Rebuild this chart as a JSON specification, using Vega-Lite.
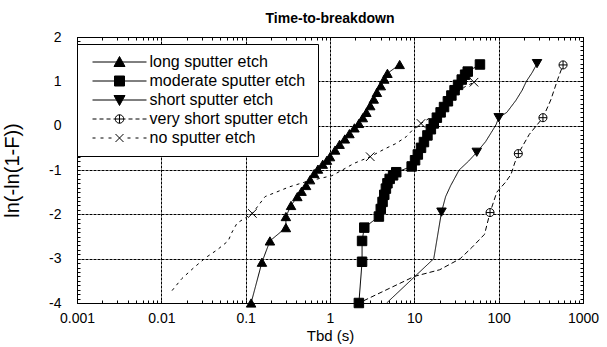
{
  "$schema": "https://vega.github.io/schema/vega-lite/v6.json",
  "width": 506,
  "height": 266,
  "autosize": {"type": "none"},
  "padding": {"left": 77, "top": 37, "right": 24, "bottom": 44},
  "background": "white",
  "title": {"text": "Time-to-breakdown", "font": "Liberation Sans", "fontSize": 14, "fontWeight": "bold", "color": "black", "anchor": "middle", "frame": "group", "baseline": "alphabetic", "offset": -7},
  "config": {
    "view": {"stroke": "black", "strokeWidth": 1},
    "axis": {"labelFont": "Liberation Sans", "titleFont": "Liberation Sans", "labelColor": "black", "titleColor": "black", "domainColor": "black", "tickColor": "black", "titleFontWeight": "normal", "labelOverlap": false, "labelFlush": false, "labelBound": false}
  },
  "datasets": {
    "lines": [
      {"s": "long sputter etch", "x": 0.116, "y": -4.0},
      {"s": "long sputter etch", "x": 0.156, "y": -3.08},
      {"s": "long sputter etch", "x": 0.194, "y": -2.6},
      {"s": "long sputter etch", "x": 0.30, "y": -2.3},
      {"s": "long sputter etch", "x": 0.30, "y": -2.05},
      {"s": "long sputter etch", "x": 0.345, "y": -1.8},
      {"s": "long sputter etch", "x": 0.41, "y": -1.6},
      {"s": "long sputter etch", "x": 0.46, "y": -1.48},
      {"s": "long sputter etch", "x": 0.52, "y": -1.35},
      {"s": "long sputter etch", "x": 0.58, "y": -1.22},
      {"s": "long sputter etch", "x": 0.65, "y": -1.08},
      {"s": "long sputter etch", "x": 0.72, "y": -0.98},
      {"s": "long sputter etch", "x": 0.82, "y": -0.87},
      {"s": "long sputter etch", "x": 0.92, "y": -0.78},
      {"s": "long sputter etch", "x": 1.0, "y": -0.7},
      {"s": "long sputter etch", "x": 1.15, "y": -0.55},
      {"s": "long sputter etch", "x": 1.3, "y": -0.42},
      {"s": "long sputter etch", "x": 1.5, "y": -0.3},
      {"s": "long sputter etch", "x": 1.7, "y": -0.18},
      {"s": "long sputter etch", "x": 1.95, "y": -0.05},
      {"s": "long sputter etch", "x": 2.2, "y": 0.05},
      {"s": "long sputter etch", "x": 2.45, "y": 0.18},
      {"s": "long sputter etch", "x": 2.7, "y": 0.3},
      {"s": "long sputter etch", "x": 3.0, "y": 0.45},
      {"s": "long sputter etch", "x": 3.3, "y": 0.6},
      {"s": "long sputter etch", "x": 3.6, "y": 0.75},
      {"s": "long sputter etch", "x": 4.0, "y": 0.9},
      {"s": "long sputter etch", "x": 4.4, "y": 1.05},
      {"s": "long sputter etch", "x": 4.8, "y": 1.18},
      {"s": "long sputter etch", "x": 6.7, "y": 1.38},
      {"s": "moderate sputter etch", "x": 2.2, "y": -4.0},
      {"s": "moderate sputter etch", "x": 2.4, "y": -3.07},
      {"s": "moderate sputter etch", "x": 2.4, "y": -2.6},
      {"s": "moderate sputter etch", "x": 2.55, "y": -2.3},
      {"s": "moderate sputter etch", "x": 3.8, "y": -2.05},
      {"s": "moderate sputter etch", "x": 4.0, "y": -1.88},
      {"s": "moderate sputter etch", "x": 4.2, "y": -1.72},
      {"s": "moderate sputter etch", "x": 4.4, "y": -1.56},
      {"s": "moderate sputter etch", "x": 4.6, "y": -1.42},
      {"s": "moderate sputter etch", "x": 4.8, "y": -1.3},
      {"s": "moderate sputter etch", "x": 5.1, "y": -1.2},
      {"s": "moderate sputter etch", "x": 5.6, "y": -1.12},
      {"s": "moderate sputter etch", "x": 6.1, "y": -1.05},
      {"s": "moderate sputter etch", "x": 9.3, "y": -0.92},
      {"s": "moderate sputter etch", "x": 10.2, "y": -0.78},
      {"s": "moderate sputter etch", "x": 11.0, "y": -0.65},
      {"s": "moderate sputter etch", "x": 12.0, "y": -0.5},
      {"s": "moderate sputter etch", "x": 13.0, "y": -0.37},
      {"s": "moderate sputter etch", "x": 14.3, "y": -0.22},
      {"s": "moderate sputter etch", "x": 15.7, "y": -0.08},
      {"s": "moderate sputter etch", "x": 17.0, "y": 0.05},
      {"s": "moderate sputter etch", "x": 18.5, "y": 0.18},
      {"s": "moderate sputter etch", "x": 20.5, "y": 0.3},
      {"s": "moderate sputter etch", "x": 22.5, "y": 0.42},
      {"s": "moderate sputter etch", "x": 25, "y": 0.55},
      {"s": "moderate sputter etch", "x": 27.5, "y": 0.68},
      {"s": "moderate sputter etch", "x": 30, "y": 0.8},
      {"s": "moderate sputter etch", "x": 33, "y": 0.92},
      {"s": "moderate sputter etch", "x": 36.5, "y": 1.04},
      {"s": "moderate sputter etch", "x": 40, "y": 1.15},
      {"s": "moderate sputter etch", "x": 43, "y": 1.22},
      {"s": "moderate sputter etch", "x": 60, "y": 1.38},
      {"s": "short sputter etch", "x": 4.7, "y": -4.0},
      {"s": "short sputter etch", "x": 17, "y": -3.0},
      {"s": "short sputter etch", "x": 21, "y": -1.95},
      {"s": "short sputter etch", "x": 23.5, "y": -1.6},
      {"s": "short sputter etch", "x": 27, "y": -1.35},
      {"s": "short sputter etch", "x": 34, "y": -1.0},
      {"s": "short sputter etch", "x": 44, "y": -0.8},
      {"s": "short sputter etch", "x": 55, "y": -0.6},
      {"s": "short sputter etch", "x": 70, "y": -0.36},
      {"s": "short sputter etch", "x": 82, "y": -0.15},
      {"s": "short sputter etch", "x": 93, "y": 0.02},
      {"s": "short sputter etch", "x": 100, "y": 0.18},
      {"s": "short sputter etch", "x": 125, "y": 0.3},
      {"s": "short sputter etch", "x": 160, "y": 0.57},
      {"s": "short sputter etch", "x": 190, "y": 0.8},
      {"s": "short sputter etch", "x": 213, "y": 1.0},
      {"s": "short sputter etch", "x": 250, "y": 1.2},
      {"s": "short sputter etch", "x": 285, "y": 1.4},
      {"s": "very short sputter etch", "x": 2.5, "y": -3.95},
      {"s": "very short sputter etch", "x": 10, "y": -3.4},
      {"s": "very short sputter etch", "x": 20, "y": -3.25},
      {"s": "very short sputter etch", "x": 35, "y": -3.0},
      {"s": "very short sputter etch", "x": 48, "y": -2.75},
      {"s": "very short sputter etch", "x": 68, "y": -2.45},
      {"s": "very short sputter etch", "x": 79, "y": -1.96},
      {"s": "very short sputter etch", "x": 95, "y": -1.5},
      {"s": "very short sputter etch", "x": 120, "y": -1.28},
      {"s": "very short sputter etch", "x": 140, "y": -1.1},
      {"s": "very short sputter etch", "x": 155, "y": -0.84},
      {"s": "very short sputter etch", "x": 171, "y": -0.63},
      {"s": "very short sputter etch", "x": 230, "y": -0.2},
      {"s": "very short sputter etch", "x": 335, "y": 0.18},
      {"s": "very short sputter etch", "x": 415, "y": 0.58},
      {"s": "very short sputter etch", "x": 500, "y": 1.04},
      {"s": "very short sputter etch", "x": 580, "y": 1.37},
      {"s": "no sputter etch", "x": 0.0134, "y": -3.72},
      {"s": "no sputter etch", "x": 0.0175, "y": -3.45},
      {"s": "no sputter etch", "x": 0.0244, "y": -3.2},
      {"s": "no sputter etch", "x": 0.034, "y": -2.97},
      {"s": "no sputter etch", "x": 0.046, "y": -2.8},
      {"s": "no sputter etch", "x": 0.062, "y": -2.6},
      {"s": "no sputter etch", "x": 0.069, "y": -2.4},
      {"s": "no sputter etch", "x": 0.079, "y": -2.2},
      {"s": "no sputter etch", "x": 0.12, "y": -1.98},
      {"s": "no sputter etch", "x": 0.17, "y": -1.6},
      {"s": "no sputter etch", "x": 0.23, "y": -1.5},
      {"s": "no sputter etch", "x": 0.33, "y": -1.38},
      {"s": "no sputter etch", "x": 0.55, "y": -1.25},
      {"s": "no sputter etch", "x": 1.05, "y": -1.13},
      {"s": "no sputter etch", "x": 1.4, "y": -1.0},
      {"s": "no sputter etch", "x": 1.93, "y": -0.85},
      {"s": "no sputter etch", "x": 3.0, "y": -0.7},
      {"s": "no sputter etch", "x": 4.5, "y": -0.52},
      {"s": "no sputter etch", "x": 6.1, "y": -0.4},
      {"s": "no sputter etch", "x": 8, "y": -0.25},
      {"s": "no sputter etch", "x": 9.5, "y": -0.1},
      {"s": "no sputter etch", "x": 12, "y": 0.05},
      {"s": "no sputter etch", "x": 16, "y": 0.2},
      {"s": "no sputter etch", "x": 20, "y": 0.35},
      {"s": "no sputter etch", "x": 25, "y": 0.55},
      {"s": "no sputter etch", "x": 32, "y": 0.75},
      {"s": "no sputter etch", "x": 40, "y": 0.88},
      {"s": "no sputter etch", "x": 51, "y": 0.98}
    ],
    "markers": [
      {"s": "long sputter etch", "x": 0.116, "y": -4.0},
      {"s": "long sputter etch", "x": 0.156, "y": -3.08},
      {"s": "long sputter etch", "x": 0.194, "y": -2.6},
      {"s": "long sputter etch", "x": 0.30, "y": -2.3},
      {"s": "long sputter etch", "x": 0.30, "y": -2.05},
      {"s": "long sputter etch", "x": 0.345, "y": -1.8},
      {"s": "long sputter etch", "x": 0.41, "y": -1.6},
      {"s": "long sputter etch", "x": 0.46, "y": -1.48},
      {"s": "long sputter etch", "x": 0.52, "y": -1.35},
      {"s": "long sputter etch", "x": 0.58, "y": -1.22},
      {"s": "long sputter etch", "x": 0.65, "y": -1.08},
      {"s": "long sputter etch", "x": 0.72, "y": -0.98},
      {"s": "long sputter etch", "x": 0.82, "y": -0.87},
      {"s": "long sputter etch", "x": 0.92, "y": -0.78},
      {"s": "long sputter etch", "x": 1.0, "y": -0.7},
      {"s": "long sputter etch", "x": 1.15, "y": -0.55},
      {"s": "long sputter etch", "x": 1.3, "y": -0.42},
      {"s": "long sputter etch", "x": 1.5, "y": -0.3},
      {"s": "long sputter etch", "x": 1.7, "y": -0.18},
      {"s": "long sputter etch", "x": 1.95, "y": -0.05},
      {"s": "long sputter etch", "x": 2.2, "y": 0.05},
      {"s": "long sputter etch", "x": 2.45, "y": 0.18},
      {"s": "long sputter etch", "x": 2.7, "y": 0.3},
      {"s": "long sputter etch", "x": 3.0, "y": 0.45},
      {"s": "long sputter etch", "x": 3.3, "y": 0.6},
      {"s": "long sputter etch", "x": 3.6, "y": 0.75},
      {"s": "long sputter etch", "x": 4.0, "y": 0.9},
      {"s": "long sputter etch", "x": 4.4, "y": 1.05},
      {"s": "long sputter etch", "x": 4.8, "y": 1.18},
      {"s": "long sputter etch", "x": 6.7, "y": 1.38},
      {"s": "moderate sputter etch", "x": 2.2, "y": -4.0},
      {"s": "moderate sputter etch", "x": 2.4, "y": -3.07},
      {"s": "moderate sputter etch", "x": 2.4, "y": -2.6},
      {"s": "moderate sputter etch", "x": 2.55, "y": -2.3},
      {"s": "moderate sputter etch", "x": 3.8, "y": -2.05},
      {"s": "moderate sputter etch", "x": 4.0, "y": -1.88},
      {"s": "moderate sputter etch", "x": 4.2, "y": -1.72},
      {"s": "moderate sputter etch", "x": 4.4, "y": -1.56},
      {"s": "moderate sputter etch", "x": 4.6, "y": -1.42},
      {"s": "moderate sputter etch", "x": 4.8, "y": -1.3},
      {"s": "moderate sputter etch", "x": 5.1, "y": -1.2},
      {"s": "moderate sputter etch", "x": 5.6, "y": -1.12},
      {"s": "moderate sputter etch", "x": 6.1, "y": -1.05},
      {"s": "moderate sputter etch", "x": 9.3, "y": -0.92},
      {"s": "moderate sputter etch", "x": 10.2, "y": -0.78},
      {"s": "moderate sputter etch", "x": 11.0, "y": -0.65},
      {"s": "moderate sputter etch", "x": 12.0, "y": -0.5},
      {"s": "moderate sputter etch", "x": 13.0, "y": -0.37},
      {"s": "moderate sputter etch", "x": 14.3, "y": -0.22},
      {"s": "moderate sputter etch", "x": 15.7, "y": -0.08},
      {"s": "moderate sputter etch", "x": 17.0, "y": 0.05},
      {"s": "moderate sputter etch", "x": 18.5, "y": 0.18},
      {"s": "moderate sputter etch", "x": 20.5, "y": 0.3},
      {"s": "moderate sputter etch", "x": 22.5, "y": 0.42},
      {"s": "moderate sputter etch", "x": 25, "y": 0.55},
      {"s": "moderate sputter etch", "x": 27.5, "y": 0.68},
      {"s": "moderate sputter etch", "x": 30, "y": 0.8},
      {"s": "moderate sputter etch", "x": 33, "y": 0.92},
      {"s": "moderate sputter etch", "x": 36.5, "y": 1.04},
      {"s": "moderate sputter etch", "x": 40, "y": 1.15},
      {"s": "moderate sputter etch", "x": 43, "y": 1.22},
      {"s": "moderate sputter etch", "x": 60, "y": 1.38},
      {"s": "short sputter etch", "x": 21, "y": -1.95},
      {"s": "short sputter etch", "x": 55, "y": -0.6},
      {"s": "short sputter etch", "x": 100, "y": 0.18},
      {"s": "short sputter etch", "x": 285, "y": 1.4},
      {"s": "very short sputter etch", "x": 79, "y": -1.96},
      {"s": "very short sputter etch", "x": 171, "y": -0.63},
      {"s": "very short sputter etch", "x": 335, "y": 0.18},
      {"s": "very short sputter etch", "x": 580, "y": 1.37},
      {"s": "no sputter etch", "x": 0.12, "y": -1.98},
      {"s": "no sputter etch", "x": 3.0, "y": -0.7},
      {"s": "no sputter etch", "x": 12, "y": 0.05},
      {"s": "no sputter etch", "x": 51, "y": 0.98}
    ]
  },
  "layer": [
    {
      "data": {"name": "lines"},
      "mark": {"type": "line", "color": "black", "strokeWidth": 1},
      "encoding": {
        "x": {
          "field": "x", "type": "quantitative",
          "scale": {"type": "log", "domain": [0.001, 1000]},
          "axis": {
            "orient": "bottom",
            "offset": -3,
            "domain": false,
            "values": [0.001,0.002,0.003,0.004,0.005,0.006,0.007,0.008,0.009,0.01,0.02,0.03,0.04,0.05,0.06,0.07,0.08,0.09,0.1,0.2,0.3,0.4,0.5,0.6,0.7,0.8,0.9,1,2,3,4,5,6,7,8,9,10,20,30,40,50,60,70,80,90,100,200,300,400,500,600,700,800,900,1000],
            "labelExpr": "indexof([0.001,0.01,0.1,1,10,100,1000], datum.value) >= 0 ? '' + datum.value : ''",
            "grid": true,
            "gridColor": "black",
            "gridDash": [3, 1],
            "gridWidth": 1,
            "gridOpacity": {"condition": {"test": "indexof([0.001,0.01,0.1,1,10,100,1000], datum.value) >= 0", "value": 1}, "value": 0},
            "tickSize": 3,
            "labelFontSize": 14,
            "labelPadding": 8,
            "title": "Tbd (s)",
            "titleFontSize": 15,
            "titlePadding": 3
          }
        },
        "y": {
          "field": "y", "type": "quantitative",
          "scale": {"domain": [-4, 2]},
          "axis": {
            "orient": "left",
            "offset": -3,
            "domain": false,
            "values": [-4,-3.9,-3.8,-3.7,-3.6,-3.5,-3.4,-3.3,-3.2,-3.1,-3,-2.9,-2.8,-2.7,-2.6,-2.5,-2.4,-2.3,-2.2,-2.1,-2,-1.9,-1.8,-1.7,-1.6,-1.5,-1.4,-1.3,-1.2,-1.1,-1,-0.9,-0.8,-0.7,-0.6,-0.5,-0.4,-0.3,-0.2,-0.1,0,0.1,0.2,0.3,0.4,0.5,0.6,0.7,0.8,0.9,1,1.1,1.2,1.3,1.4,1.5,1.6,1.7,1.8,1.9,2],
            "labelExpr": "abs(datum.value - round(datum.value)) < 0.001 ? '' + round(datum.value) : ''",
            "grid": true,
            "gridColor": "black",
            "gridDash": [3, 1],
            "gridWidth": 1,
            "gridOpacity": {"condition": {"test": "abs(datum.value - round(datum.value)) < 0.001", "value": 1}, "value": 0},
            "tickSize": 3,
            "labelFontSize": 14,
            "labelPadding": 16,
            "title": "ln(-ln(1-F))",
            "titleFontSize": 20,
            "titlePadding": 26
          }
        },
        "detail": {"field": "s"},
        "strokeDash": {
          "condition": [
            {"test": "datum.s == 'very short sputter etch'", "value": [5, 3]},
            {"test": "datum.s == 'no sputter etch'", "value": [3, 4]}
          ],
          "value": [1, 0]
        },
        "order": {"field": "y", "type": "quantitative"}
      }
    },
    {
      "data": {"name": "markers"},
      "mark": {"type": "point", "filled": true, "stroke": "black", "strokeWidth": 1, "opacity": 1, "size": 90},
      "encoding": {
        "x": {
          "field": "x", "type": "quantitative",
          "scale": {"type": "log", "domain": [0.001, 1000]},
          "axis": {
            "orient": "top",
            "offset": -3,
            "domain": false,
            "values": [0.001,0.002,0.003,0.004,0.005,0.006,0.007,0.008,0.009,0.01,0.02,0.03,0.04,0.05,0.06,0.07,0.08,0.09,0.1,0.2,0.3,0.4,0.5,0.6,0.7,0.8,0.9,1,2,3,4,5,6,7,8,9,10,20,30,40,50,60,70,80,90,100,200,300,400,500,600,700,800,900,1000],
            "labels": false, "grid": false, "tickSize": 3, "title": null
          }
        },
        "y": {
          "field": "y", "type": "quantitative",
          "scale": {"domain": [-4, 2]},
          "axis": {
            "orient": "right",
            "offset": -3,
            "domain": false,
            "values": [-4,-3.9,-3.8,-3.7,-3.6,-3.5,-3.4,-3.3,-3.2,-3.1,-3,-2.9,-2.8,-2.7,-2.6,-2.5,-2.4,-2.3,-2.2,-2.1,-2,-1.9,-1.8,-1.7,-1.6,-1.5,-1.4,-1.3,-1.2,-1.1,-1,-0.9,-0.8,-0.7,-0.6,-0.5,-0.4,-0.3,-0.2,-0.1,0,0.1,0.2,0.3,0.4,0.5,0.6,0.7,0.8,0.9,1,1.1,1.2,1.3,1.4,1.5,1.6,1.7,1.8,1.9,2],
            "labels": false, "grid": false, "tickSize": 3, "title": null
          }
        },
        "shape": {
          "condition": [
            {"test": "datum.s == 'moderate sputter etch'", "value": "square"},
            {"test": "datum.s == 'short sputter etch'", "value": "triangle-down"},
            {"test": "datum.s == 'very short sputter etch'", "value": "M-0.85,0A0.85,0.85 0 1,1 0.85,0A0.85,0.85 0 1,1 -0.85,0ZM0,-0.85V0.85M-0.85,0H0.85"},
            {"test": "datum.s == 'no sputter etch'", "value": "M-0.9,-0.9L0.9,0.9M-0.9,0.9L0.9,-0.9"}
          ],
          "value": "triangle-up"
        },
        "fill": {
          "condition": {"test": "datum.s == 'very short sputter etch' || datum.s == 'no sputter etch'", "value": "white"},
          "value": "black"
        }
      }
    },
    {
      "data": {"name": "markers"},
      "mark": {"type": "point", "filled": false, "color": "black", "strokeWidth": 1, "size": 0},
      "encoding": {
        "x": {"field": "x", "type": "quantitative", "scale": {"type": "log", "domain": [0.001, 1000]}, "axis": null},
        "y": {"field": "y", "type": "quantitative", "scale": {"domain": [-4, 2]}, "axis": null},
        "shape": {
          "field": "s", "type": "nominal",
          "scale": {
            "domain": ["long sputter etch", "moderate sputter etch", "short sputter etch", "very short sputter etch", "no sputter etch"],
            "range": [
              "M-5.4,0H5.4M0,-1.1L1.1,0.9L-1.1,0.9Z",
              "M-5.4,0H5.4M-1,-1H1V1H-1Z",
              "M-5.4,0H5.4M0,1.1L1.1,-0.9L-1.1,-0.9Z",
              "M-5.4,0H-4.6M-4,0H-3.2M-2.6,0H-1.8M-1.2,0H-0.85M0.85,0H1.2M1.8,0H2.6M3.2,0H4M4.6,0H5.4M-0.85,0A0.85,0.85 0 1,1 0.85,0A0.85,0.85 0 1,1 -0.85,0ZM0,-0.85V0.85M-0.85,0H0.85",
              "M-5.4,0H-4.8M-3.8,0H-3.2M-2.2,0H-1.6M1.6,0H2.2M3.2,0H3.8M4.8,0H5.4M-0.8,-0.8L0.8,0.8M-0.8,0.8L0.8,-0.8"
            ]
          },
          "legend": {
            "orient": "none",
            "legendX": 0,
            "legendY": 7,
            "direction": "vertical",
            "title": null,
            "padding": 10,
            "strokeColor": "black",
            "fillColor": "white",
            "labelFont": "Liberation Sans",
            "labelFontSize": 16,
            "labelColor": "black",
            "labelLimit": 0,
            "symbolSize": 100,
            "symbolOpacity": 1,
            "symbolStrokeColor": "black",
            "symbolStrokeWidth": 1,
            "symbolOffset": 24.5,
            "labelOffset": 22,
            "rowPadding": 3
          }
        },
        "fill": {
          "field": "s", "type": "nominal",
          "scale": {
            "domain": ["long sputter etch", "moderate sputter etch", "short sputter etch", "very short sputter etch", "no sputter etch"],
            "range": ["black", "black", "black", "white", "white"]
          }
        },
        "stroke": {
          "field": "s", "type": "nominal",
          "scale": {
            "domain": ["long sputter etch", "moderate sputter etch", "short sputter etch", "very short sputter etch", "no sputter etch"],
            "range": ["black", "black", "black", "black", "black"]
          }
        }
      }
    }
  ],
  "resolve": {"axis": {"x": "independent", "y": "independent"}}
}
